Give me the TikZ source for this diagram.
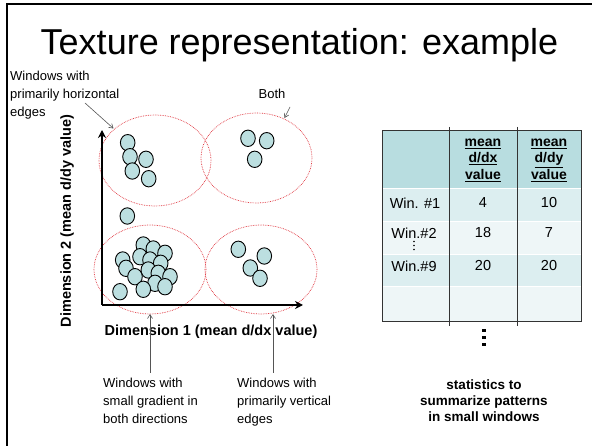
\documentclass[tikz,border=0pt]{standalone}
\usepackage{fontspec}
\setmainfont{Liberation Sans}
\usetikzlibrary{arrows.meta}
\definecolor{dotblue}{HTML}{BCDFE0}
\definecolor{headteal}{HTML}{B8DDE0}
\definecolor{rowdark}{HTML}{DCEEF0}
\definecolor{rowlight}{HTML}{EEF6F7}
\definecolor{clusterred}{HTML}{E0303A}
\definecolor{pointergray}{HTML}{555555}
\tikzset{
  lbl/.style={inner sep=0pt, align=left, font=\fontsize{13}{18}\selectfont},
  cell/.style={inner sep=0pt, align=center, font=\fontsize{14.5}{16.5}\selectfont},
  headcell/.style={inner sep=0pt, align=center, font=\fontsize{14}{16.5}\selectfont\bfseries},
  axislbl/.style={inner sep=0pt, font=\fontsize{14.5}{17}\selectfont\bfseries},
  cluster/.style={draw=clusterred, densely dotted, line width=0.7pt},
  dot/.style={draw=black, fill=dotblue, line width=0.9pt},
  axis/.style={line width=2pt, -{Stealth[length=8pt,width=8pt]}},
  pointer/.style={draw=pointergray, line width=0.6pt, -{Straight Barb[length=4pt,width=5pt]}},
  grid/.style={draw=black!80, line width=0.8pt}
}
\newcommand{\ul}[1]{\underline{#1}}
\begin{document}
\begin{tikzpicture}[x=1pt,y=-1pt]
\useasboundingbox (0,0) rectangle (592,446);
\fill[white] (0,0) rectangle (592,446);
% slide frame (top and left edges)
\draw[line width=1.6pt] (7,446) -- (7,4) -- (592,4);

% title
\node[inner sep=0pt, font=\fontsize{36}{40}\selectfont] (title) at (299.5,45) {Texture representation: example};

% clusters
\draw[cluster] (155,160.5) ellipse [x radius=56, y radius=45.5];
\draw[cluster] (256.5,158) ellipse [x radius=55.5, y radius=45];
\draw[cluster] (150,269.5) ellipse [x radius=56, y radius=44.5];
\draw[cluster] (261,269.5) ellipse [x radius=56, y radius=44.5];

% axes
\coordinate (origin) at (102,305);
\coordinate (ytip) at (102,130);
\coordinate (xtip) at (303,305);
\draw[axis] (origin) -- (ytip);
\draw[axis] (origin) -- (xtip);

% window samples
\foreach \px/\py in {127.7/142.7, 130/156.7, 146/159.3, 132.3/171, 148.7/178.7,
                     248/138.3, 266.7/140.7, 254.7/159.3,
                     127.3/216,
                     238.3/249.3, 264.3/256, 250.3/268, 260/278.3,
                     143.3/245, 153.3/249, 165/253.3, 140/256.7, 122.7/260,
                     150/260, 160.7/263.3, 126/268.3, 148.3/270, 158.3/273.3,
                     135/276.7, 170/276.7, 155/283.3, 165/286.7, 143.3/289.3, 120/291.7}
  \draw[dot] (\px,\py) ellipse [x radius=7.3, y radius=8.2];

% axis labels
\node[axislbl] (xlabel) at (211,332) {Dimension 1 (mean d/dx value)};
\node[axislbl, rotate=90] (ylabel) at (67,221) {Dimension 2 (mean d/dy value)};

% annotations
\node[lbl, anchor=north west] (horiz) at (10,70.5) {Windows with\\primarily horizontal\\edges};
\node[lbl] (both) at (272,94) {Both};
\node[lbl, anchor=north west] (small) at (103,378) {Windows with\\small gradient in\\both directions};
\node[lbl, anchor=north west] (vert) at (237,378) {Windows with\\primarily vertical\\edges};

\coordinate (horizfrom) at (85,103);
\coordinate (horizto) at (113.5,128.5);
\coordinate (bothfrom) at (290,107);
\coordinate (bothto) at (284.5,118);
\coordinate (smallfrom) at (150,373);
\coordinate (smallto) at (150,314);
\coordinate (vertfrom) at (273,373);
\coordinate (vertto) at (273,314);
\draw[pointer] (horizfrom) -- (horizto);
\draw[pointer] (bothfrom) -- (bothto);
\draw[pointer] (smallfrom) -- (smallto);
\draw[pointer] (vertfrom) -- (vertto);

% statistics table: row shading
\fill[headteal] (382,130) rectangle (581,188);
\fill[rowdark]  (382,188.8) rectangle (581,221);
\fill[rowlight] (382,221.8) rectangle (581,254);
\fill[rowdark]  (382,254.8) rectangle (581,286);
\fill[rowlight] (382,286.8) rectangle (581,321);
% table rules
\draw[grid] (382,130) rectangle (581,321);
\draw[grid] (449,127) -- (449,326);
\draw[grid] (517,127) -- (517,326);

% table text
\node[headcell] (hdx) at (483,160) {\ul{mean}\\\ul{d/dx}\\\ul{value}};
\node[headcell] (hdy) at (549,160) {\ul{mean}\\\ul{d/dy}\\\ul{value}};
\node[cell] (w1) at (415,203) {Win. \#1};
\node[cell] (w1x) at (483,203) {4};
\node[cell] (w1y) at (549,203) {10};
\node[cell] (w2) at (414,233) {Win.\#2};
\node[cell] (w2x) at (483,233) {18};
\node[cell] (w2y) at (549,233) {7};
\node[cell] (w9) at (414,266) {Win.\#9};
\node[cell] (w9x) at (483,266) {20};
\node[cell] (w9y) at (549,266) {20};
% skipped rows between Win.#2 and Win.#9
\foreach \vy in {241.5,245.5,249.5}
  \fill[black] (414,\vy) circle [radius=0.8];

% more rows follow
\foreach \dy in {330.5,337.5,344.5}
  \fill[black] (482.2,\dy-1.8) rectangle (485.8,\dy+1.8);

\node[cell, font=\fontsize{13.5}{16}\selectfont\bfseries] (summary) at (484,401) {statistics to\\summarize patterns\\in small windows};
\end{tikzpicture}
\end{document}
